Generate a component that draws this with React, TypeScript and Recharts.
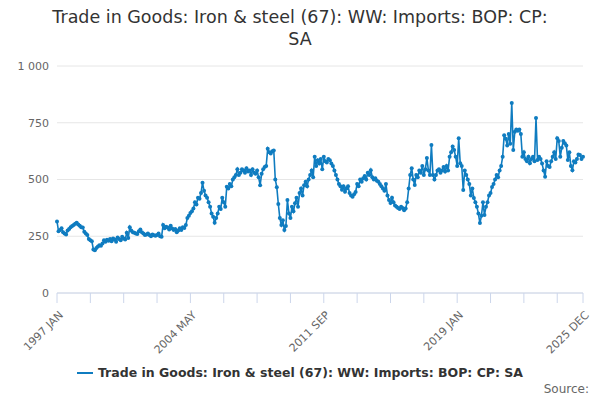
import React from "react";
import { LineChart, Line, XAxis, YAxis, CartesianGrid } from "recharts";

const years = Array.from({ length: 29 }, (_, i) => 1997 + i);
const months = ["JAN","FEB","MAR","APR","MAY","JUN","JUL","AUG","SEP","OCT","NOV","DEC"];
const values = [
315,272,278,285,268,262,258,275,282,290,295,300,
305,310,302,296,290,288,270,262,255,238,232,228,
192,188,198,205,210,208,218,232,226,235,230,238,
228,240,236,226,245,238,232,248,240,236,265,242,
290,275,268,265,262,260,272,280,268,262,255,258,
262,255,250,258,254,252,256,262,250,248,300,285,
292,288,280,296,284,278,282,268,275,285,278,290,
286,300,330,340,352,360,372,400,390,420,415,440,
486,450,430,420,400,380,350,336,310,330,350,380,
370,420,400,380,468,460,480,470,500,510,520,545,
520,530,545,540,530,550,535,540,520,545,530,525,
540,510,475,525,545,555,560,635,620,615,625,628,
500,466,392,330,300,320,277,295,410,350,330,380,
360,395,420,380,440,460,430,475,490,470,500,520,
540,510,600,560,585,570,590,545,600,580,575,590,
585,570,560,540,520,500,480,470,455,470,446,460,
470,440,430,424,435,445,480,470,500,490,506,515,
500,530,520,541,510,500,505,495,490,480,470,460,
450,480,430,410,396,420,400,385,380,375,370,380,
375,365,372,400,460,520,550,500,476,520,510,540,
530,560,520,545,595,540,520,652,520,500,520,540,
545,530,540,555,535,560,540,600,620,645,630,600,
560,682,572,560,454,540,520,500,480,430,460,418,
400,380,350,308,340,400,344,380,400,430,440,467,
480,500,520,510,540,560,600,695,680,650,700,657,
837,630,710,720,715,720,700,600,620,590,580,600,
572,590,600,580,771,586,600,590,570,540,512,580,
560,555,580,600,620,590,682,670,600,640,670,660,
650,586,620,560,541,580,575,590,610,608,590,600,
];
const yTicks = [0, 250, 500, 750, 1000];
const tickIdx = [0,22,44,66,88,110,132,154,176,198,220,242,264,286,308,330,347];
const labelIdx = [0, 88, 176, 264, 347];

const data = values.map((v, i) => ({
  label: `${years[Math.floor(i / 12)]} ${months[i % 12]}`,
  value: v,
}));
const xTicks = tickIdx.map((i) => data[i].label);
const shownLabels = labelIdx.map((i) => data[i].label);

const color = "#0f7cc0";
const font = "'DejaVu Sans', sans-serif";

const XTick = (props: any) => {
  const { x, y, payload } = props;
  if (!shownLabels.includes(payload.value)) return null;
  return (
    <text x={x + 4} y={y + 8} transform={`rotate(-45 ${x + 4} ${y + 8})`} textAnchor="end"
      fontSize={11} fill="#666" fontFamily={font} dy="0.35em">
      {payload.value}
    </text>
  );
};

export default function App() {
  return (
    <div style={{ position: "absolute", left: 0, top: 0, width: 600, height: 400, background: "#fff", fontFamily: font }}>
      <div style={{ position: "absolute", top: 6, left: 0, width: 600, textAlign: "center", fontSize: 17.5, color: "#333", lineHeight: "22px" }}>
        Trade in Goods: Iron &amp; steel (67): WW: Imports: BOP: CP:<br />SA
      </div>
      <LineChart width={600} height={400} data={data} margin={{ top: 66, right: 17, left: 0, bottom: 27 }}>
        <CartesianGrid vertical={false} stroke="#e6e6e6" />
        <XAxis dataKey="label" ticks={xTicks} interval={0} height={80} tick={<XTick />}
          stroke="#ccd6eb" tickSize={10} tickLine={{ stroke: "#ccd6eb" }} />
        <YAxis width={57} domain={[0, 1000]} ticks={yTicks} axisLine={false} tickLine={false}
          tick={{ fontSize: 11, fill: "#666", fontFamily: font }}
          tickFormatter={(v: number) => (v >= 1000 ? "1 000" : String(v))} />
        <Line type="linear" dataKey="value" stroke={color} strokeWidth={1.6}
          dot={{ r: 2, fill: color, stroke: color, strokeWidth: 0 }} isAnimationActive={false} />
      </LineChart>
      <div style={{ position: "absolute", top: 365, left: 0, width: 600, textAlign: "center", fontSize: 12.5, fontWeight: "bold", color: "#333" }}>
        <span style={{ display: "inline-block", width: 16, height: 2, background: color, verticalAlign: "middle", marginRight: 5, position: "relative", top: -1 }} />
        Trade in Goods: Iron &amp; steel (67): WW: Imports: BOP: CP: SA
      </div>
      <div style={{ position: "absolute", top: 382, right: 11, fontSize: 12, color: "#666" }}>Source:</div>
    </div>
  );
}
